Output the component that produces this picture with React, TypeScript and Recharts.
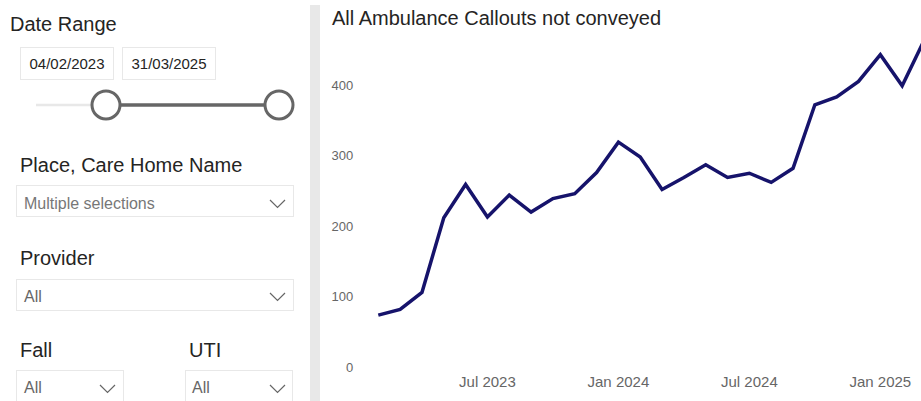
import React from "react";
import { LineChart, Line, XAxis, YAxis } from "recharts";

const months: string[] = [
  "Feb 2023", "Mar 2023", "Apr 2023", "May 2023", "Jun 2023", "Jul 2023",
  "Aug 2023", "Sep 2023", "Oct 2023", "Nov 2023", "Dec 2023", "Jan 2024",
  "Feb 2024", "Mar 2024", "Apr 2024", "May 2024", "Jun 2024", "Jul 2024",
  "Aug 2024", "Sep 2024", "Oct 2024", "Nov 2024", "Dec 2024", "Jan 2025",
  "Feb 2025", "Mar 2025",
];

const callouts: number[] = [
  74, 82, 106, 212, 259, 213, 244, 220, 239, 246, 276, 319,
  298, 252, 269, 287, 269, 275, 262, 282, 372, 383, 405, 443,
  399, 463,
];

const yTicks: number[] = [0, 100, 200, 300, 400];

const chartTitle = "All Ambulance Callouts not conveyed";
const dateFrom = "04/02/2023";
const dateTo = "31/03/2025";

const data = months.map((m, i) => ({ month: m, value: callouts[i] }));

const FONT = "'Liberation Sans', Arial, sans-serif";

function Chevron({ x, y }: { x: number; y: number }) {
  return (
    <polyline
      points={`${x},${y} ${x + 7.5},${y + 7.5} ${x + 15},${y}`}
      fill="none"
      stroke="#666"
      strokeWidth={1.2}
    />
  );
}

function LeftPanel() {
  return (
    <svg
      width={921}
      height={401}
      style={{ position: "absolute", left: 0, top: 0 }}
      fontFamily={FONT}
    >
      <text x={10} y={31} fontSize={20} fill="#252423">Date Range</text>
      <rect x={20.5} y={47.5} width={93} height={32} fill="#fff" stroke="#E8E8E8" />
      <text x={67} y={69} fontSize={15} fill="#252423" textAnchor="middle">{dateFrom}</text>
      <rect x={122.5} y={47.5} width={93} height={32} fill="#fff" stroke="#E8E8E8" />
      <text x={169} y={69} fontSize={15} fill="#252423" textAnchor="middle">{dateTo}</text>

      <line x1={36} y1={105} x2={106} y2={105} stroke="#E8E8E8" strokeWidth={2.5} />
      <line x1={106} y1={105} x2={279} y2={105} stroke="#666" strokeWidth={3.5} />
      <circle cx={106} cy={105} r={14} fill="#fff" stroke="#666" strokeWidth={3} />
      <circle cx={279} cy={105} r={14} fill="#fff" stroke="#666" strokeWidth={3} />

      <text x={20} y={172} fontSize={20} fill="#252423">Place, Care Home Name</text>
      <rect x={16.5} y={185.5} width={277} height={31} fill="#fff" stroke="#E8E8E8" />
      <text x={24} y={209} fontSize={16} fill="#777">Multiple selections</text>
      <Chevron x={270} y={200} />

      <text x={20} y={265} fontSize={20} fill="#252423">Provider</text>
      <rect x={16.5} y={279.5} width={277} height={31} fill="#fff" stroke="#E8E8E8" />
      <text x={24} y={302} fontSize={16} fill="#666">All</text>
      <Chevron x={270} y={293} />

      <text x={20} y={357} fontSize={20} fill="#252423">Fall</text>
      <text x={189} y={357} fontSize={20} fill="#252423">UTI</text>
      <rect x={16.5} y={370.5} width={107} height={40} fill="#fff" stroke="#E8E8E8" />
      <text x={24} y={393} fontSize={16} fill="#666">All</text>
      <Chevron x={100} y={385} />
      <rect x={185.5} y={370.5} width={107} height={40} fill="#fff" stroke="#E8E8E8" />
      <text x={192} y={393} fontSize={16} fill="#666">All</text>
      <Chevron x={270} y={385} />

      <rect x={310} y={5} width={10} height={400} fill="#E8E8E8" />

      <text x={332} y={25} fontSize={20} fill="#252423">{chartTitle}</text>
    </svg>
  );
}

export default function App() {
  return (
    <div
      style={{
        position: "fixed",
        left: 0,
        top: 0,
        width: 921,
        height: 401,
        overflow: "hidden",
        background: "#fff",
        fontFamily: FONT,
      }}
    >
      <LeftPanel />
      <div style={{ position: "absolute", left: 320, top: 0 }}>
        <LineChart
          width={620}
          height={401}
          data={data}
          margin={{ top: 35.6, right: 16, bottom: 0, left: 0 }}
        >
          <XAxis
            dataKey="month"
            interval={0}
            height={33.7}
            tickLine={false}
            axisLine={false}
            tickSize={0}
            tickMargin={9}
            tick={{ fontSize: 15, fill: "#666", fontFamily: FONT }}
            tickFormatter={(v: string) =>
              v.startsWith("Jul") || v.startsWith("Jan") ? v : ""
            }
          />
          <YAxis
            width={58.3}
            domain={[0, 470]}
            ticks={yTicks}
            tickLine={false}
            axisLine={false}
            tickSize={0}
            tickMargin={25}
            tick={{ fontSize: 13, fill: "#666", fontFamily: FONT }}
          />
          <Line
            type="linear"
            dataKey="value"
            stroke="#16136B"
            strokeWidth={3.5}
            dot={false}
            activeDot={false}
            isAnimationActive={false}
          />
        </LineChart>
      </div>
    </div>
  );
}
